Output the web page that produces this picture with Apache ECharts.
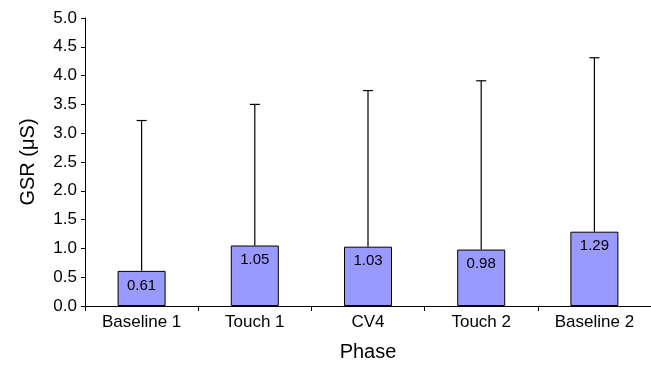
<!DOCTYPE html>
<html>
<head>
<meta charset="utf-8">
<script src="https://cdn.jsdelivr.net/npm/echarts@6/dist/echarts.min.js"></script>
<style>html,body{margin:0;padding:0;background:#fff}#c{width:651px;height:367px}</style>
</head>
<body>
<div id="c"></div>
<script>
var categories = ['Baseline 1', 'Touch 1', 'CV4', 'Touch 2', 'Baseline 2'];
var meanValues = [0.61, 1.05, 1.03, 0.98, 1.29];
var upperValues = [3.22, 3.50, 3.74, 3.91, 4.31];
var FONT = '"Liberation Sans", Arial, sans-serif';

var chart = echarts.init(document.getElementById('c'), null, {renderer: 'canvas'});
chart.setOption({
  animation: false,
  backgroundColor: '#ffffff',
  grid: {left: 85, right: 0, top: 18, bottom: 56, containLabel: false},
  xAxis: {
    type: 'category',
    data: categories,
    name: 'Phase',
    nameLocation: 'middle',
    nameGap: 36,
    nameTextStyle: {fontFamily: FONT, fontSize: 20, color: '#000'},
    axisLine: {lineStyle: {color: '#000', width: 1}},
    axisTick: {show: true, length: 5, alignWithLabel: false, lineStyle: {color: '#000'}},
    axisLabel: {fontFamily: FONT, fontSize: 17, color: '#000', margin: 8, interval: 0},
    splitLine: {show: false}
  },
  yAxis: {
    type: 'value',
    min: 0, max: 5, interval: 0.5,
    name: 'GSR (\u03bcS)',
    nameLocation: 'middle',
    nameRotate: 90,
    nameGap: 47,
    nameTextStyle: {fontFamily: FONT, fontSize: 20, color: '#000'},
    axisLine: {show: true, lineStyle: {color: '#000', width: 1}},
    axisTick: {show: true, length: 4, lineStyle: {color: '#000'}},
    axisLabel: {fontFamily: FONT, fontSize: 17, color: '#000', margin: 8,
      formatter: function (v) { return v.toFixed(1); }},
    splitLine: {show: false}
  },
  series: [
    {
      type: 'bar',
      data: meanValues,
      barWidth: 48,
      itemStyle: {color: '#9999FF', borderColor: '#000', borderWidth: 1},
      label: {show: true, position: 'insideTop', distance: 7, fontFamily: FONT, fontSize: 15, color: '#000',
        formatter: function (p) { return p.value.toFixed(2); }},
      z: 2
    },
    {
      type: 'custom',
      data: categories.map(function (c, i) { return [i, meanValues[i], upperValues[i]]; }),
      renderItem: function (params, api) {
        var base = api.coord([api.value(0), api.value(1)]);
        var top = api.coord([api.value(0), api.value(2)]);
        var half = 5;
        return {
          type: 'group',
          children: [
            {type: 'line', shape: {x1: base[0], y1: base[1], x2: top[0], y2: top[1]}, style: {stroke: '#000', lineWidth: 1.2}},
            {type: 'line', shape: {x1: top[0] - half, y1: top[1], x2: top[0] + half, y2: top[1]}, style: {stroke: '#000', lineWidth: 1.2}}
          ]
        };
      },
      z: 1
    }
  ]
});
</script>
</body>
</html>
